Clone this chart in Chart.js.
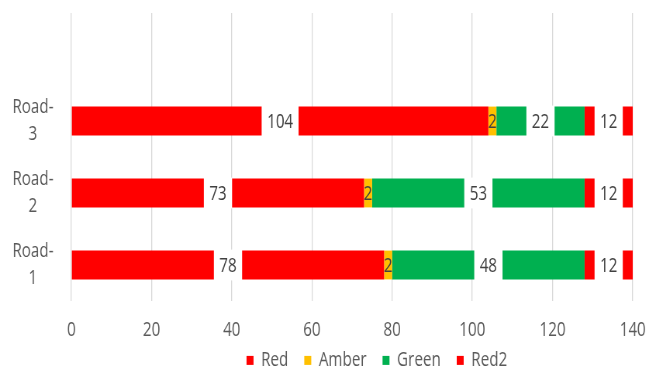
<!DOCTYPE html>
<html>
<head>
<meta charset="utf-8">
<script src="https://cdn.jsdelivr.net/npm/chart.js@4.4.1/dist/chart.umd.min.js"></script>
<style>
  html, body { margin: 0; padding: 0; background: #ffffff; }
  #wrap { width: 649px; height: 371px; overflow: hidden; }
  /* the canvas is drawn wider and shown narrower, giving the tall, condensed lettering */
  #c { display: block; width: 649px; height: 371px; }
</style>
</head>
<body>
<div id="wrap"><canvas id="c" width="837" height="371" style="width:649px;height:371px"></canvas></div>
<script>
// Categories (bottom to top); the last, empty one leaves headroom above Road-3
const roads = [['Road-', '1'], ['Road-', '2'], ['Road-', '3'], ''];

// Series values per road
const redValues   = [78, 73, 104];
const amberValues = [2, 2, 2];
const greenValues = [48, 53, 22];
const red2Values  = [12, 12, 12];

// Value axis
const axisMin = 0;
const axisMax = 140;
const axisStep = 20;

const FONT = "'Open Sans', 'Liberation Sans', sans-serif";
const FONT_SIZE = 19.6;
const TEXT = '#595959';
const LABEL_TEXT = '#404040';

// Value labels centred in each segment; most sit on a white patch that cuts the bar
const valueLabels = {
  id: 'valueLabels',
  afterDatasetsDraw(chart) {
    const ctx = chart.ctx;
    ctx.save();
    ctx.font = FONT_SIZE + 'px ' + FONT;
    ctx.textAlign = 'center';
    ctx.textBaseline = 'middle';
    chart.data.datasets.forEach((ds, i) => {
      const meta = chart.getDatasetMeta(i);
      if (meta.hidden) return;
      meta.data.forEach((bar, j) => {
        const v = ds.data[j];
        if (v == null) return;
        const cx = (bar.x + bar.base) / 2;
        const cy = bar.y;
        const txt = String(v);
        if (ds.labelPatch) {
          const w = ctx.measureText(txt).width + 14;
          ctx.fillStyle = '#ffffff';
          ctx.fillRect(cx - w / 2, cy - bar.height / 2 - 1, w, bar.height + 2);
        }
        ctx.fillStyle = LABEL_TEXT;
        ctx.fillText(txt, cx, cy + 1);
      });
    });
    ctx.restore();
  }
};

// Place the legend block under the plot, slightly right of centre,
// keeping its box tall enough that the labels are not clipped
const legendPlacement = {
  id: 'legendPlacement',
  afterLayout(chart) {
    const lg = chart.legend;
    if (!lg) return;
    const dx = 78, dy = -11;
    lg.left += dx; lg.right += dx;
    lg.top += dy;
    lg.bottom = chart.height;
  }
};

// Axes keep only the room they are given, without extra edge padding for labels
function noEdgePadding(s) {
  s.paddingTop = 0; s.paddingBottom = 0;
  s.paddingLeft = 0; s.paddingRight = 0;
}

new Chart(document.getElementById('c'), {
  type: 'bar',
  data: {
    labels: roads,
    datasets: [
      { label: 'Red',   data: redValues,   backgroundColor: '#ff0000', labelPatch: true },
      { label: 'Amber', data: amberValues, backgroundColor: '#ffc000', labelPatch: false },
      { label: 'Green', data: greenValues, backgroundColor: '#00b050', labelPatch: true },
      { label: 'Red2',  data: red2Values,  backgroundColor: '#ff0000', labelPatch: true }
    ]
  },
  options: {
    responsive: false,
    animation: false,
    devicePixelRatio: 1,
    indexAxis: 'y',
    layout: { padding: { top: 13, right: 21, bottom: 0, left: 0 } },
    datasets: { bar: { barPercentage: 0.4, categoryPercentage: 1, borderWidth: 0 } },
    plugins: {
      tooltip: { enabled: false },
      legend: {
        position: 'bottom',
        maxHeight: 30,
        labels: {
          boxWidth: 9,
          boxHeight: 9,
          padding: 20.6,
          color: TEXT,
          font: { family: FONT, size: FONT_SIZE }
        }
      }
    },
    scales: {
      x: {
        stacked: true,
        min: axisMin,
        max: axisMax,
        ticks: { stepSize: axisStep, padding: 18, color: TEXT, font: { family: FONT, size: FONT_SIZE } },
        grid: { color: '#d9d9d9', lineWidth: 1.3, drawTicks: false },
        border: { display: false },
        afterFit(s) { s.height = 40; noEdgePadding(s); }
      },
      y: {
        stacked: true,
        reverse: true,
        grid: { display: false, drawTicks: false },
        border: { display: false },
        ticks: {
          crossAlign: 'center',
          padding: 23,
          color: TEXT,
          font: { family: FONT, size: FONT_SIZE, lineHeight: 1.38 }
        },
        afterFit(s) { s.width = 92; noEdgePadding(s); }
      }
    }
  },
  plugins: [valueLabels, legendPlacement]
});
</script>
</body>
</html>
